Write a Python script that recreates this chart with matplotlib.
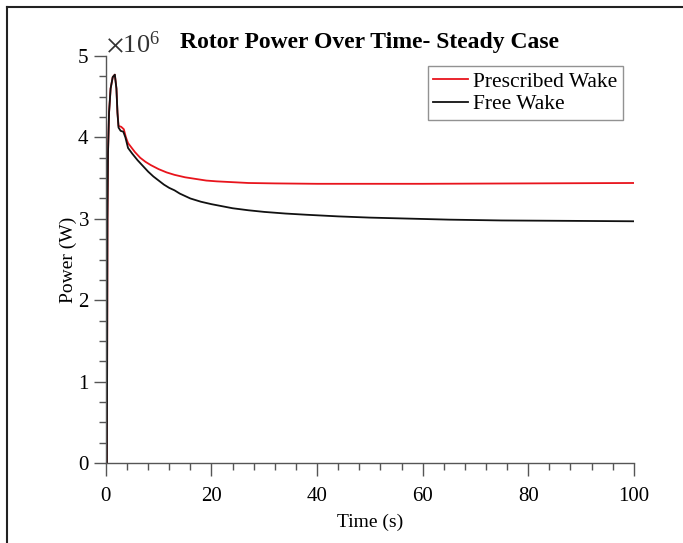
import matplotlib
matplotlib.use("Agg")
import matplotlib.pyplot as plt
from matplotlib.ticker import MultipleLocator, ScalarFormatter
from matplotlib.lines import Line2D

plt.rcParams['font.family'] = ['Liberation Serif', 'DejaVu Serif']
plt.rcParams['mathtext.fontset'] = 'stix'

# Data (power in units of 1e6 W, converted below)
time_free = [0.2, 0.3, 0.4, 0.6, 0.9, 1.3, 1.7, 2.0, 2.2, 2.4, 2.8, 3.3, 3.7, 4.2, 5.0, 6.0,
             7.0, 8.0, 9.0, 10.0, 11.0, 12.0, 13.0, 14.0, 15.0, 16.0, 18.0, 20.0, 22.0, 24.0,
             27.0, 30.0, 34.0, 38.0, 44.0, 50.0, 56.0, 65.0, 75.0, 88.0, 100.0]
power_free = [0.0, 3.0, 3.8, 4.3, 4.6, 4.74, 4.77, 4.6, 4.3, 4.12, 4.08, 4.07, 4.0, 3.87, 3.80, 3.72,
              3.65, 3.58, 3.52, 3.47, 3.42, 3.38, 3.35, 3.31, 3.28, 3.25, 3.21, 3.18, 3.155, 3.13,
              3.105, 3.085, 3.065, 3.05, 3.03, 3.015, 3.005, 2.99, 2.98, 2.975, 2.97]
time_presc = [0.2, 0.3, 0.4, 0.6, 0.9, 1.3, 1.7, 2.0, 2.2, 2.4, 2.9, 3.4, 3.8, 4.2, 5.5, 6.5,
              7.5, 8.5, 10.0, 11.5, 13.0, 15.0, 17.0, 19.0, 21.0, 24.0, 27.0, 32.0, 40.0, 60.0,
              80.0, 100.0]
power_presc = [0.0, 3.0, 3.8, 4.3, 4.6, 4.74, 4.77, 4.6, 4.3, 4.14, 4.13, 4.1, 4.0, 3.93, 3.82, 3.75,
               3.70, 3.66, 3.61, 3.57, 3.54, 3.51, 3.49, 3.47, 3.46, 3.45, 3.44, 3.435, 3.43, 3.43,
               3.435, 3.44]
power_free = [v * 1e6 for v in power_free]
power_presc = [v * 1e6 for v in power_presc]

fig = plt.figure(figsize=(6.83, 5.43), dpi=100)
ax = fig.add_axes([0.155, 0.147, 0.773, 0.750])

ax.plot(time_presc, power_presc, color='#e8141c', lw=1.3, label='Prescribed Wake')
ax.plot(time_free, power_free, color='#111111', lw=1.3, label='Free Wake')

ax.set_xlim(0, 100)
ax.set_ylim(0, 5e6)
ax.xaxis.set_major_locator(MultipleLocator(20))
ax.xaxis.set_minor_locator(MultipleLocator(4))
ax.yaxis.set_major_locator(MultipleLocator(1e6))
ax.yaxis.set_minor_locator(MultipleLocator(0.25e6))
fmt = ScalarFormatter(useMathText=True)
fmt.set_powerlimits((0, 0))
ax.yaxis.set_major_formatter(fmt)
ax.yaxis.get_offset_text().set_fontsize(19)
ax.yaxis.get_offset_text().set_color('#333333')

for s in ['top', 'right']:
    ax.spines[s].set_visible(False)
for s in ['left', 'bottom']:
    ax.spines[s].set_color('#555555')
    ax.spines[s].set_linewidth(1.0)

ax.tick_params(which='major', direction='out', length=9, width=1.0, color='#555555',
               labelsize=15, pad=3)
ax.tick_params(axis='x', which='major', pad=8)
ax.tick_params(which='minor', direction='out', length=5, width=1.0, color='#555555')

ax.set_xlabel('Time (s)', fontsize=14, labelpad=6)
ax.set_ylabel('Power (W)', fontsize=14, labelpad=0)
ax.set_title('Rotor Power Over Time- Steady Case', fontsize=17, fontweight='bold', pad=6)

leg = ax.legend(loc='upper right', bbox_to_anchor=(0.979, 0.975), fontsize=15.5, frameon=True,
                fancybox=False, edgecolor='#777777', handlelength=1.6, handletextpad=0.25,
                borderpad=0.25, labelspacing=0.12, borderaxespad=0.0)
leg.get_frame().set_linewidth(1.0)

# figure frame lines (left and top)
fig.add_artist(Line2D([0.0105, 0.0105], [0.0, 0.987], transform=fig.transFigure,
                      color='#222222', lw=1.5))
fig.add_artist(Line2D([0.0105, 1.0], [0.987, 0.987], transform=fig.transFigure,
                      color='#222222', lw=1.5))

fig.savefig('out.png', dpi=100)
